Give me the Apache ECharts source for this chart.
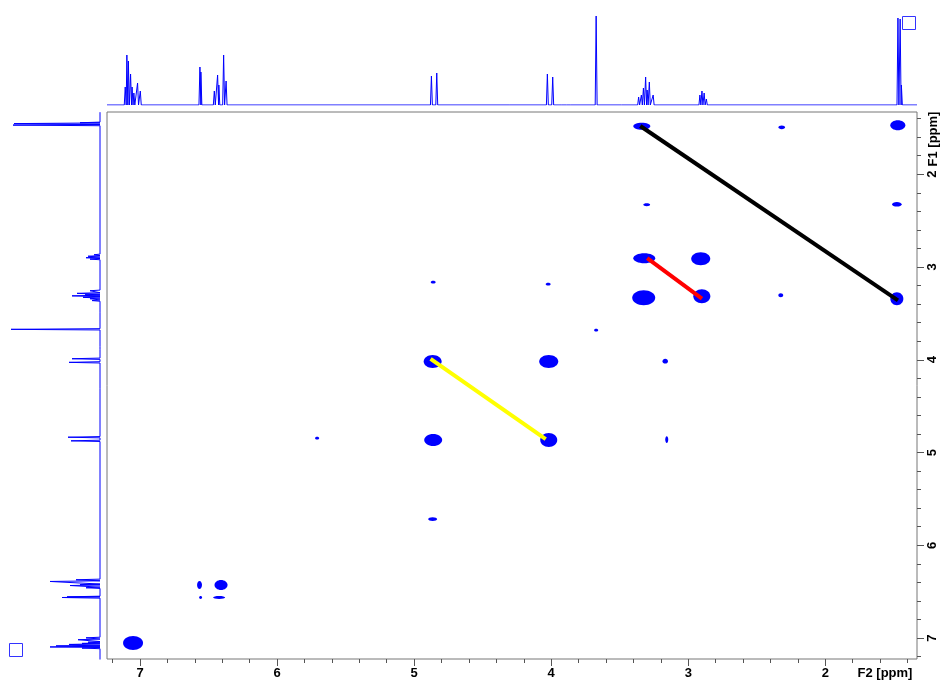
<!DOCTYPE html>
<html>
<head>
<meta charset="utf-8">
<title>COSY</title>
<script src="https://cdn.jsdelivr.net/npm/echarts@6/dist/echarts.min.js"></script>
<style>
html, body { margin: 0; padding: 0; background: #fff; }
#main { width: 941px; height: 684px; }
</style>
</head>
<body>
<div id="main"></div>
<script>
// 坐标范围 (ppm)
var f2Range = [1.331, 7.241];
var f1Range = [1.329, 7.226];
var majorTicks = [2, 3, 4, 5, 6, 7];
var minorTicks = [1.4, 1.6, 1.8, 2.0, 2.2, 2.4, 2.6, 2.8, 3.0, 3.2, 3.4, 3.6, 3.8, 4.0, 4.2,
                  4.4, 4.6, 4.8, 5.0, 5.2, 5.4, 5.6, 5.8, 6.0, 6.2, 6.4, 6.6, 6.8, 7.0, 7.2];

// 1D projection lines [ppm, height]
var projPeaks = [
    [7.108, 18], [7.096, 50], [7.085, 44], [7.069, 31], [7.058, 18], [7.045, 12],
    [7.018, 22], [6.998, 14],
    [6.563, 38], [6.556, 33],
    [6.458, 14], [6.434, 30], [6.425, 20], [6.390, 50], [6.372, 24],
    [4.874, 29], [4.835, 32],
    [4.330, 2], [4.300, 2],
    [4.028, 31], [3.989, 28],
    [3.920, 2], [3.880, 2], [3.850, 2],
    [3.672, 89],
    [3.480, 2],
    [3.362, 8], [3.342, 10], [3.327, 17], [3.311, 28], [3.300, 15], [3.284, 23], [3.256, 10],
    [2.915, 10], [2.900, 14], [2.884, 12], [2.868, 6],
    [1.470, 87], [1.454, 86], [1.445, 20]
];

// cross peaks [F2, F1, extent F2, extent F1]
var crossPeaks = [
    [3.339, 1.483, 0.124, 0.075],
    [2.318, 1.494, 0.050, 0.040],
    [1.471, 1.472, 0.110, 0.108],
    [3.303, 2.329, 0.050, 0.030],
    [1.478, 2.323, 0.070, 0.050],
    [3.321, 2.905, 0.160, 0.108],
    [2.909, 2.911, 0.139, 0.140],
    [3.325, 3.331, 0.168, 0.162],
    [2.901, 3.315, 0.124, 0.151],
    [2.325, 3.304, 0.036, 0.043],
    [1.478, 3.342, 0.095, 0.140],
    [4.865, 4.020, 0.131, 0.140],
    [4.018, 4.020, 0.139, 0.140],
    [3.168, 4.015, 0.040, 0.050],
    [4.861, 4.866, 0.131, 0.130],
    [4.018, 4.866, 0.124, 0.151],
    [3.157, 4.861, 0.022, 0.075],
    [4.865, 5.718, 0.066, 0.043],
    [5.708, 4.845, 0.030, 0.030],
    [4.861, 3.164, 0.036, 0.030],
    [4.022, 3.185, 0.036, 0.030],
    [3.672, 3.681, 0.030, 0.030],
    [6.566, 6.429, 0.036, 0.086],
    [6.409, 6.429, 0.095, 0.108],
    [6.558, 6.564, 0.022, 0.032],
    [6.423, 6.564, 0.088, 0.032],
    [7.051, 7.054, 0.146, 0.151]
];

// 相关连线 [F2, F1]
var blackLine = [[3.35, 1.48], [1.47, 3.36]];
var redLine = [[3.30, 2.905], [2.90, 3.34]];
var yellowLine = [[4.88, 3.99], [4.04, 4.855]];

var labelFont = 'Liberation Sans, Arial, sans-serif';

// 投影谱线: 每条谱线画成一个尖峰
function buildTrace(peaks) {
    var hw = 0.007;
    var sorted = peaks.slice().sort(function (a, b) { return b[0] - a[0]; });
    var pts = [[f2Range[1], 0]];
    sorted.forEach(function (p) {
        pts.push([p[0] + hw, 0], [p[0], p[1]], [p[0] - hw, 0]);
    });
    pts.push([f2Range[0], 0]);
    return pts;
}
var topTrace = buildTrace(projPeaks);
var leftTrace = topTrace.map(function (p) { return [p[1], p[0]]; });

function tickAxis(gridIndex, range, major, extra) {
    var ax = {
        gridIndex: gridIndex,
        type: 'value',
        inverse: true,
        min: range[0],
        max: range[1],
        axisLine: { show: false },
        splitLine: { show: false },
        axisTick: {
            show: true,
            customValues: major ? majorTicks : minorTicks,
            length: major ? 7 : 4,
            lineStyle: { color: '#555', width: 1 }
        },
        axisLabel: {
            show: major,
            customValues: majorTicks,
            color: '#000',
            fontWeight: 'bold',
            fontSize: 13,
            fontFamily: labelFont,
            margin: 8
        }
    };
    for (var k in extra) { ax[k] = extra[k]; }
    return ax;
}

function lineSerie(data, color) {
    return {
        type: 'line',
        xAxisIndex: 0,
        yAxisIndex: 0,
        data: data,
        symbol: 'none',
        silent: true,
        z: 10,
        lineStyle: { color: color, width: 4 }
    };
}

var option = {
    backgroundColor: '#fff',
    animation: false,
    grid: [
        { left: 107, top: 112, width: 810, height: 547, show: true, borderColor: '#777', borderWidth: 1 },
        { left: 107, top: 10, width: 810, height: 95 },
        { left: 5, top: 112, width: 95, height: 547 }
    ],
    xAxis: [
        tickAxis(0, f2Range, true, { position: 'bottom' }),
        tickAxis(0, f2Range, false, { position: 'bottom' }),
        { gridIndex: 1, type: 'value', inverse: true, min: f2Range[0], max: f2Range[1], show: false },
        { gridIndex: 2, type: 'value', inverse: true, min: 0, max: 95, show: false }
    ],
    yAxis: [
        tickAxis(0, f1Range, true, { position: 'right', axisLabel: {
            show: true, customValues: majorTicks, color: '#000', fontWeight: 'bold',
            fontSize: 13, fontFamily: labelFont, margin: 9, rotate: 90 } }),
        tickAxis(0, f1Range, false, { position: 'right' }),
        { gridIndex: 1, type: 'value', min: 0, max: 95, show: false },
        { gridIndex: 2, type: 'value', inverse: true, min: f1Range[0], max: f1Range[1], show: false }
    ],
    series: [
        {
            type: 'custom',
            xAxisIndex: 0,
            yAxisIndex: 0,
            clip: true,
            data: crossPeaks,
            renderItem: function (params, api) {
                var c = api.coord([api.value(0), api.value(1)]);
                var s = api.size([api.value(2), api.value(3)]);
                return {
                    type: 'ellipse',
                    shape: { cx: c[0], cy: c[1], rx: Math.abs(s[0]) / 2, ry: Math.abs(s[1]) / 2 },
                    style: { fill: '#0000ff' }
                };
            }
        },
        lineSerie(blackLine, '#000000'),
        lineSerie(redLine, '#ff0000'),
        lineSerie(yellowLine, '#ffff00'),
        {
            type: 'line',
            xAxisIndex: 2,
            yAxisIndex: 2,
            data: topTrace,
            symbol: 'none',
            silent: true,
            lineStyle: { color: '#0000ff', width: 1 }
        },
        {
            type: 'line',
            xAxisIndex: 3,
            yAxisIndex: 3,
            data: leftTrace,
            symbol: 'none',
            silent: true,
            lineStyle: { color: '#0000ff', width: 1 }
        }
    ],
    graphic: [
        {
            type: 'text', x: 885, y: 673,
            style: { text: 'F2 [ppm]', fontSize: 13, fontWeight: 'bold', fontFamily: labelFont,
                     fill: '#000', align: 'center', verticalAlign: 'middle' }
        },
        {
            type: 'text', x: 933, y: 139, rotation: Math.PI / 2,
            style: { text: 'F1 [ppm]', fontSize: 13, fontWeight: 'bold', fontFamily: labelFont,
                     fill: '#000', align: 'center', verticalAlign: 'middle' }
        },
        {
            type: 'rect', shape: { x: 902.5, y: 16.5, width: 13, height: 13 },
            style: { fill: 'none', stroke: '#3333ff', lineWidth: 1 }
        },
        {
            type: 'rect', shape: { x: 9.5, y: 643.5, width: 13, height: 13 },
            style: { fill: 'none', stroke: '#3333ff', lineWidth: 1 }
        }
    ]
};

var chart = echarts.init(document.getElementById('main'));
chart.setOption(option);
</script>
</body>
</html>
